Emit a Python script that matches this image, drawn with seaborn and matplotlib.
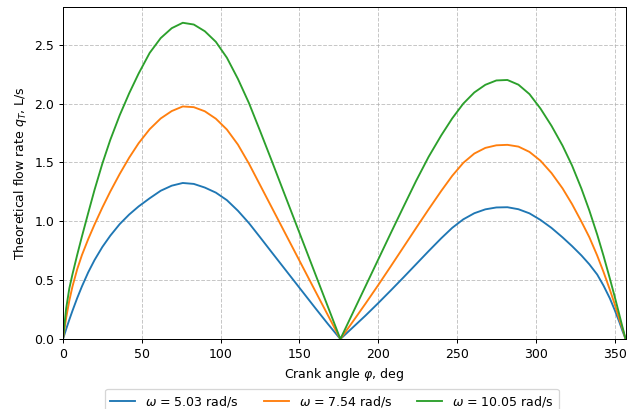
import numpy as np
import pandas as pd
import matplotlib
matplotlib.use("Agg")
import matplotlib.pyplot as plt
import seaborn as sns

# crank angle, deg
angles = [0, 2, 4, 6, 9, 12, 16, 20, 25, 30, 36, 42, 48, 55, 62, 69, 76, 83, 90, 97,
          104, 111, 118, 125, 132, 139, 146, 153, 160, 168, 176,
          184, 192, 200, 208, 216, 224, 232, 240, 247, 254, 261, 268, 275, 282, 289,
          296, 303, 310, 317, 323, 329, 334, 339, 343, 347, 350, 353, 355, 357]

# theoretical flow rate, L/s
q_503 = [0, 0.084, 0.164, 0.24, 0.348, 0.447, 0.567, 0.671, 0.783, 0.878, 0.977, 1.058,
         1.127, 1.196, 1.26, 1.303, 1.326, 1.318, 1.287, 1.244, 1.18, 1.09, 0.985, 0.866,
         0.745, 0.625, 0.505, 0.385, 0.265, 0.13, 0,
         0.10, 0.20, 0.305, 0.413, 0.523, 0.635, 0.747, 0.856, 0.945, 1.017, 1.069, 1.102,
         1.118, 1.12, 1.103, 1.068, 1.012, 0.944, 0.864, 0.79, 0.71, 0.635, 0.548, 0.454,
         0.346, 0.25, 0.146, 0.07, 0]
q_754 = [0, 0.18, 0.326, 0.446, 0.593, 0.713, 0.849, 0.973, 1.118, 1.253, 1.403, 1.541,
         1.664, 1.783, 1.874, 1.937, 1.976, 1.97, 1.935, 1.872, 1.78, 1.652, 1.49, 1.31,
         1.13, 0.95, 0.77, 0.59, 0.41, 0.205, 0,
         0.15, 0.302, 0.458, 0.618, 0.78, 0.942, 1.102, 1.258, 1.387, 1.497, 1.576, 1.624,
         1.646, 1.65, 1.635, 1.59, 1.515, 1.41, 1.28, 1.147, 0.997, 0.865, 0.709, 0.57,
         0.42, 0.30, 0.17, 0.09, 0]
q_1005 = [0, 0.26, 0.43, 0.55, 0.715, 0.871, 1.071, 1.267, 1.492, 1.692, 1.902, 2.088,
          2.256, 2.431, 2.557, 2.641, 2.687, 2.672, 2.615, 2.525, 2.39, 2.21, 2.005, 1.77,
          1.53, 1.286, 1.043, 0.80, 0.556, 0.278, 0,
          0.225, 0.45, 0.675, 0.90, 1.122, 1.342, 1.548, 1.73, 1.875, 2.0, 2.095, 2.16,
          2.197, 2.201, 2.161, 2.081, 1.958, 1.811, 1.643, 1.475, 1.277, 1.092, 0.887,
          0.707, 0.515, 0.365, 0.209, 0.103, 0]

labels = [r"$\omega$ = 5.03 rad/s", r"$\omega$ = 7.54 rad/s", r"$\omega$ = 10.05 rad/s"]
colors = ["#1f77b4", "#ff7f0e", "#2ca02c"]

frames = []
for lab, q in zip(labels, [q_503, q_754, q_1005]):
    frames.append(pd.DataFrame({"angle": angles, "q": q, "speed": lab}))
df = pd.concat(frames, ignore_index=True)

fig, ax = plt.subplots(figsize=(7.0, 409 / 90), dpi=90)
fig.subplots_adjust(left=0.1, right=0.993, top=0.983, bottom=0.171)

sns.lineplot(data=df, x="angle", y="q", hue="speed", hue_order=labels,
             palette=colors, linewidth=1.5, ax=ax)

ax.set_xlim(min(angles), max(angles))
ax.set_ylim(bottom=0)
ax.grid(True, linestyle="--", alpha=0.7)
ax.set_xlabel(r"Crank angle $\varphi$, deg")
ax.set_ylabel(r"Theoretical flow rate $q_T$, L/s")

sns.move_legend(ax, "upper center", bbox_to_anchor=(0.478, -0.131), ncol=3,
                title=None, frameon=True)

plt.savefig("out.png", dpi=90)
